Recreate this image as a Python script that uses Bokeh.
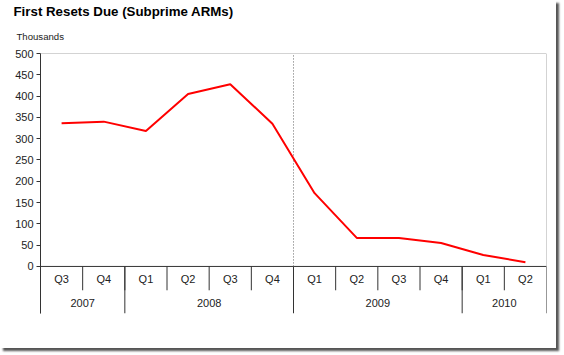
from bokeh.plotting import figure
from bokeh.models import Range1d, FixedTicker, Title
from bokeh.core.properties import value
from bokeh.embed import file_html
from bokeh.resources import INLINE

quarters = ["Q3", "Q4", "Q1", "Q2", "Q3", "Q4", "Q1", "Q2", "Q3", "Q4", "Q1", "Q2"]
years = ["2007", "2008", "2009", "2010"]
year_counts = [2, 4, 4, 2]
resets = [336, 340, 318, 405, 428, 335, 172, 67, 67, 55, 27, 10]
y_ticks = [0, 50, 100, 150, 200, 250, 300, 350, 400, 450, 500]
title_text = "First Resets Due (Subprime ARMs)"
unit_text = "Thousands"

FONT = "Liberation Sans"
n = len(quarters)
xc = [i + 0.5 for i in range(n)]

p = figure(width=556, height=348, output_backend="svg", toolbar_location=None,
           x_range=Range1d(0, n), y_range=Range1d(-110.5, 500),
           min_border_left=40, min_border_right=10, min_border_top=53, min_border_bottom=35)
p.styles = {"box-shadow": "3px 3px 2px #555"}
p.xaxis.visible = False
p.xgrid.visible = False
p.ygrid.visible = False
p.outline_line_color = None
p.background_fill_color = "white"
p.border_fill_color = "white"

p.title = Title(text=title_text, align="left", offset=-27, standoff=-4,
                text_font=FONT, text_font_size="13.3px", text_font_style="bold", text_color="#000000")
p.add_layout(Title(text=unit_text, align="left", offset=-24, standoff=24,
                   text_font=FONT, text_font_size="9.6px", text_font_style="normal", text_color="#222222"), "above")

yax = p.yaxis[0]
yax.ticker = FixedTicker(ticks=y_ticks)
yax.minor_tick_line_color = None
yax.major_tick_out = 4
yax.major_tick_in = 0
yax.axis_line_color = "#333333"
yax.major_tick_line_color = "#333333"
yax.major_label_text_font = FONT
yax.major_label_text_font_size = "11px"
yax.major_label_text_color = "#222222"
yax.major_label_standoff = 3

# plot area border (top, right)
p.segment(x0=[0, n], y0=[500, 0], x1=[n, n], y1=[500, 500], line_color="#a8a8a8", line_width=1)
# x axis line
p.segment(x0=[0], y0=[0], x1=[n], y1=[0], line_color="#333333", line_width=1)
# quarter separators
qsep = [i for i in range(1, n)]
p.segment(x0=qsep, y0=[0] * len(qsep), x1=qsep, y1=[-56] * len(qsep), line_color="#333333", line_width=1)
# year separators
ybound = [0]
for c in year_counts:
    ybound.append(ybound[-1] + c)
p.segment(x0=ybound, y0=[0] * len(ybound), x1=ybound, y1=[-110.5] * len(ybound), line_color="#333333", line_width=1)
# dotted divider between 2008 and 2009
p.segment(x0=[ybound[2]], y0=[0], x1=[ybound[2]], y1=[500], line_color="#666666", line_width=1, line_dash="1 2")

# data line
p.line(xc, resets, line_color="#ff0000", line_width=2)

# category labels
p.text(x=xc, y=[-30] * n, text=quarters, text_font=value(FONT), text_font_size="11px",
       text_align="center", text_baseline="middle", text_color="#222222")
ycent = [(ybound[i] + ybound[i + 1]) / 2 for i in range(len(years))]
p.text(x=ycent, y=[-87] * len(years), text=years, text_font=value(FONT), text_font_size="11px",
       text_align="center", text_baseline="middle", text_color="#222222")

open("out.html", "w").write(file_html(p, INLINE))
